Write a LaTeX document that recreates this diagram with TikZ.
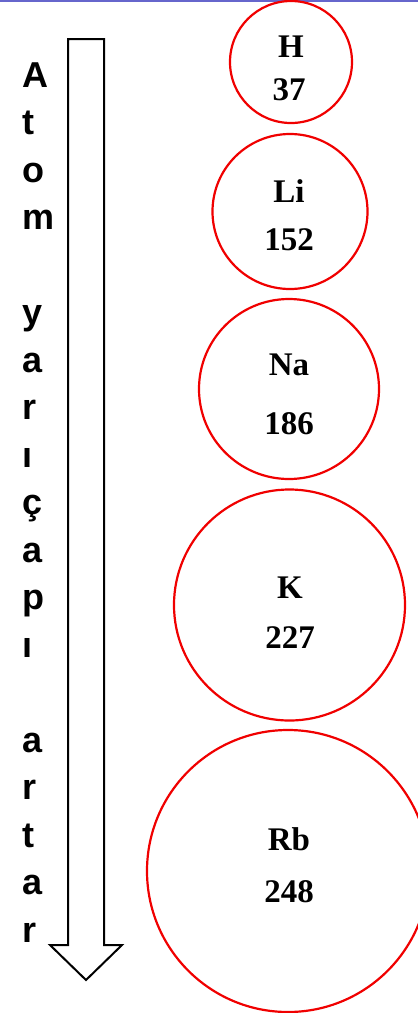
\documentclass[tikz,border=0pt]{standalone}
\usepackage{fontspec}
\setmainfont{Liberation Serif}
\newfontfamily\arialfont{Liberation Sans}
\definecolor{topblue}{RGB}{102,102,204}
\definecolor{ringred}{RGB}{240,0,0}
\begin{document}
\begin{tikzpicture}[x=1pt,y=-1pt,
  ring/.style={circle,draw=ringred,line width=2.2pt,inner sep=0pt,outer sep=0pt},
  elem/.style={font=\fontsize{33}{33}\selectfont\bfseries,anchor=base,inner sep=0pt},
  vletter/.style={font=\arialfont\fontsize{36}{36}\selectfont\bfseries,anchor=base west,inner sep=0pt},
  bigarrow/.style={draw=black,line width=2pt,line join=miter,fill=white}]
\useasboundingbox (0,0) rectangle (418,1013);
% top rule
\draw[topblue,line width=1.6pt] (0,0.8) -- (418,0.8);
% arrow
\coordinate (a1) at (68,39);
\coordinate (a2) at (104,39);
\coordinate (a3) at (104,945);
\coordinate (a4) at (122,945);
\coordinate (a5) at (86,980);
\coordinate (a6) at (50,945);
\coordinate (a7) at (68,945);
\draw[bigarrow] (a1) -- (a2) -- (a3) -- (a4) -- (a5) -- (a6) -- (a7) -- cycle;
% vertical text
\foreach \ch [count=\i from 0] in {A,t,o,m,{},y,a,r,ı,ç,a,p,ı,{},a,r,t,a,r}{
  \node[vletter] (v\i) at (22,{87+47.5*\i}) {\ch};
}
% circles
\node[ring,minimum size=122pt] (H) at (291,62) {};
\node[ring,minimum size=155pt] (Li) at (290,211.5) {};
\node[ring,minimum size=180pt] (Na) at (289,389) {};
\node[ring,minimum size=231pt] (K) at (289.5,605) {};
\node[ring,minimum size=282pt] (Rb) at (288,871) {};
% labels
\node[elem] (Hs) at (291,57) {H};
\node[elem] (Hn) at (289,100) {37};
\node[elem] (Lis) at (289,202) {Li};
\node[elem] (Lin) at (289,250) {152};
\node[elem] (Nas) at (289,375) {Na};
\node[elem] (Nan) at (289,434) {186};
\node[elem] (Ks) at (290,598) {K};
\node[elem] (Kn) at (290,648) {227};
\node[elem] (Rbs) at (289,850) {Rb};
\node[elem] (Rbn) at (289,902) {248};
\end{tikzpicture}
\end{document}
